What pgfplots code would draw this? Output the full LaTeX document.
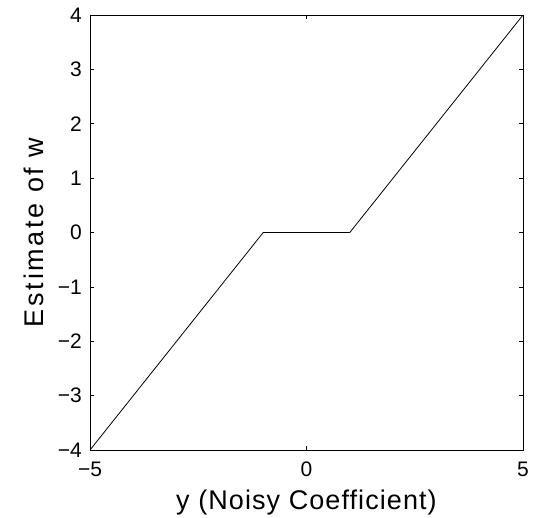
\documentclass[border=0pt]{standalone}
\usepackage{pgfplots}
\pgfplotsset{compat=1.18}
\usepackage{fontspec}
\setmainfont{Liberation Sans}
\newfontfamily\xlabfont[LetterSpace=4]{Liberation Sans}
\newfontfamily\ylabfont[LetterSpace=10]{Liberation Sans}
\begin{document}
\begin{tikzpicture}[x=1pt,y=1pt]
\path[use as bounding box] (-90,-67) rectangle (444,450);
\begin{axis}[
    at={(0,0)}, anchor=south west,
    scale only axis, width=433pt, height=435pt,
    xmin=-5, xmax=5, ymin=-4, ymax=4,
    xtick={-5,0,5}, xticklabels={−5,0,5},
    ytick={-4,-3,-2,-1,0,1,2,3,4},
    yticklabels={−4,−3,−2,−1,0,1,2,3,4},
    tick align=inside, major tick length=4pt,
    tick style={black, line width=0.7pt},
    axis line style={line width=0.8pt},
    ticklabel style={font=\fontsize{21}{21}\selectfont, inner sep=0pt},
    xticklabel shift=12pt, yticklabel shift=8pt,
    every axis x label/.style={at={(axis description cs:0.5,-0.136)}, anchor=base},
    every axis y label/.style={at={(axis description cs:-0.1085,0.5)}, rotate=90, anchor=base},
    xlabel={\xlabfont\fontsize{27}{27}\selectfont y (Noisy Coefficient)},
    ylabel={\ylabfont\fontsize{27}{27}\selectfont Estimate of w},
]
% soft thresholding, threshold 1
\addplot[black, line width=0.8pt] coordinates {
    (-5,-4)
    (-1,0)
    (1,0)
    (5,4)
};
\end{axis}
\end{tikzpicture}
\end{document}
